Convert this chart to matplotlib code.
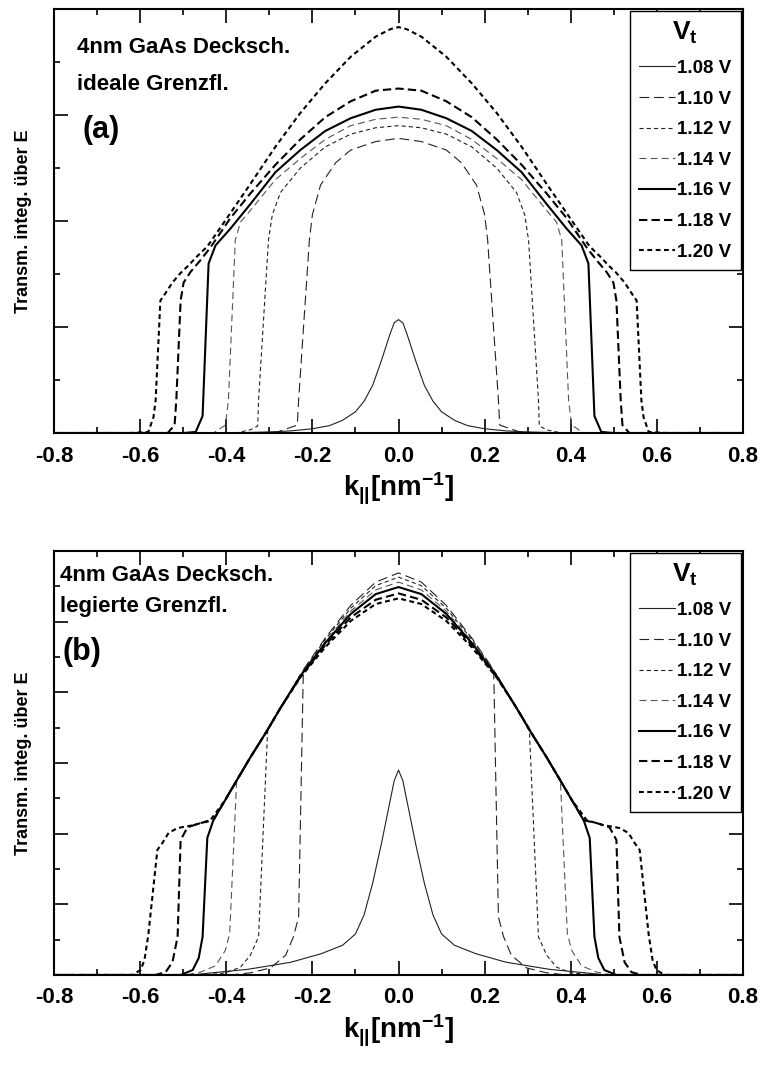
import numpy as np
import matplotlib
matplotlib.use('Agg')
import matplotlib.pyplot as plt
from matplotlib.ticker import MultipleLocator, FormatStrFormatter

plt.rcParams['font.family'] = ['Liberation Sans', 'DejaVu Sans']
plt.rcParams['font.weight'] = 'bold'
plt.rcParams['axes.labelweight'] = 'bold'
plt.rcParams['mathtext.fontset'] = 'custom'
plt.rcParams['mathtext.rm'] = 'Liberation Sans:bold'
plt.rcParams['mathtext.it'] = 'Liberation Sans:bold'
plt.rcParams['mathtext.bf'] = 'Liberation Sans:bold'
plt.rcParams['axes.unicode_minus'] = False
plt.rcParams['lines.scale_dashes'] = False

labels = ['1.08 V', '1.10 V', '1.12 V', '1.14 V', '1.16 V', '1.18 V', '1.20 V']

# ---- (a) ideale Grenzflaeche ----
k_a108 = [-0.8, -0.4, -0.3, -0.25, -0.2, -0.16, -0.13, -0.1, -0.08, -0.06, -0.04, -0.02, -0.01, 0.0,
          0.01, 0.02, 0.04, 0.06, 0.08, 0.1, 0.13, 0.16, 0.2, 0.25, 0.3, 0.4, 0.8]
t_a108 = [0, 0, 0.01, 0.02, 0.04, 0.07, 0.12, 0.2, 0.3, 0.45, 0.68, 0.93, 1.04, 1.07,
          1.04, 0.93, 0.68, 0.45, 0.3, 0.2, 0.12, 0.07, 0.04, 0.02, 0.01, 0, 0]

k_a110 = [-0.8, -0.33, -0.281, -0.235, -0.232, -0.207, -0.2, -0.181, -0.146, -0.111, -0.053, 0.0,
          0.053, 0.111, 0.146, 0.181, 0.2, 0.207, 0.232, 0.235, 0.281, 0.33, 0.8]
t_a110 = [0, 0, 0.01, 0.075, 0.31, 1.82, 2.06, 2.34, 2.55, 2.67, 2.75, 2.78,
          2.75, 2.67, 2.55, 2.34, 2.06, 1.82, 0.31, 0.075, 0.01, 0, 0]

k_a112 = [-0.8, -0.379, -0.344, -0.327, -0.325, -0.302, -0.293, -0.274, -0.228, -0.17, -0.111, -0.053, 0.0,
          0.053, 0.111, 0.17, 0.228, 0.274, 0.293, 0.302, 0.325, 0.327, 0.344, 0.379, 0.8]
t_a112 = [0, 0, 0.03, 0.066, 0.31, 1.82, 2.06, 2.27, 2.5, 2.7, 2.82, 2.88, 2.9,
          2.88, 2.82, 2.7, 2.5, 2.27, 2.06, 1.82, 0.31, 0.066, 0.03, 0, 0]

k_a114 = [-0.8, -0.43, -0.402, -0.395, -0.379, -0.367, -0.344, -0.286, -0.228, -0.17, -0.111, -0.053, 0.0,
          0.053, 0.111, 0.17, 0.228, 0.286, 0.344, 0.367, 0.379, 0.395, 0.402, 0.43, 0.8]
t_a114 = [0, 0, 0.075, 0.31, 1.82, 1.99, 2.1, 2.39, 2.59, 2.77, 2.9, 2.96, 2.98,
          2.96, 2.9, 2.77, 2.59, 2.39, 2.1, 1.99, 1.82, 0.31, 0.075, 0, 0]

k_a116 = [-0.8, -0.499, -0.471, -0.455, -0.441, -0.425, -0.39, -0.344, -0.286, -0.228, -0.17, -0.111, -0.053, 0.0,
          0.053, 0.111, 0.17, 0.228, 0.286, 0.344, 0.39, 0.425, 0.441, 0.455, 0.471, 0.499, 0.8]
t_a116 = [0, 0, 0.01, 0.16, 1.6, 1.77, 1.93, 2.16, 2.46, 2.67, 2.85, 2.97, 3.05, 3.08,
          3.05, 2.97, 2.85, 2.67, 2.46, 2.16, 1.93, 1.77, 1.6, 0.16, 0.01, 0, 0]

k_a118 = [-0.8, -0.536, -0.52, -0.516, -0.506, -0.499, -0.483, -0.46, -0.437, -0.39, -0.344, -0.286, -0.228,
          -0.17, -0.111, -0.053, 0.0, 0.053, 0.111, 0.17, 0.228, 0.286, 0.344, 0.39, 0.437, 0.46, 0.483,
          0.499, 0.506, 0.516, 0.52, 0.536, 0.8]
t_a118 = [0, 0, 0.075, 0.31, 1.25, 1.42, 1.52, 1.63, 1.75, 2.03, 2.26, 2.53, 2.77,
          2.98, 3.13, 3.23, 3.25, 3.23, 3.13, 2.98, 2.77, 2.53, 2.26, 2.03, 1.75, 1.63, 1.52,
          1.42, 1.25, 0.31, 0.075, 0, 0]

k_a120 = [-0.8, -0.622, -0.581, -0.569, -0.564, -0.553, -0.541, -0.525, -0.506, -0.488, -0.467, -0.444,
          -0.42, -0.344, -0.286, -0.228, -0.17, -0.111, -0.053, -0.019, 0.0, 0.019, 0.053, 0.111, 0.17,
          0.228, 0.286, 0.344, 0.42, 0.444, 0.467, 0.488, 0.506, 0.525, 0.541, 0.553, 0.564, 0.569,
          0.581, 0.622, 0.8]
t_a120 = [0, 0, 0.01, 0.15, 0.31, 1.25, 1.32, 1.42, 1.51, 1.58, 1.67, 1.76,
          1.9, 2.35, 2.7, 3.02, 3.3, 3.55, 3.74, 3.81, 3.83, 3.81, 3.74, 3.55, 3.3,
          3.02, 2.7, 2.35, 1.9, 1.76, 1.67, 1.58, 1.51, 1.42, 1.32, 1.25, 0.31, 0.15,
          0.01, 0, 0]

# ---- (b) legierte Grenzflaeche ----
k_b108 = [-0.8, -0.48, -0.45, -0.35, -0.25, -0.18, -0.13, -0.1, -0.08, -0.06, -0.04, -0.02, -0.01, 0.0,
          0.01, 0.02, 0.04, 0.06, 0.08, 0.1, 0.13, 0.18, 0.25, 0.35, 0.45, 0.48, 0.8]
t_b108 = [0, 0, 0.02, 0.08, 0.18, 0.3, 0.42, 0.58, 0.85, 1.3, 1.85, 2.45, 2.75, 2.9,
          2.75, 2.45, 1.85, 1.3, 0.85, 0.58, 0.42, 0.3, 0.18, 0.08, 0.02, 0, 0]

k_b110 = [-0.8, -0.39, -0.344, -0.297, -0.262, -0.244, -0.232, -0.221, -0.17, -0.111, -0.053, 0.0,
          0.053, 0.111, 0.17, 0.221, 0.232, 0.244, 0.262, 0.297, 0.344, 0.39, 0.8]
t_b110 = [0, 0, 0.03, 0.1, 0.28, 0.54, 0.82, 4.32, 4.77, 5.23, 5.56, 5.69,
          5.56, 5.23, 4.77, 4.32, 0.82, 0.54, 0.28, 0.1, 0.03, 0, 0]

k_b112 = [-0.8, -0.448, -0.402, -0.367, -0.344, -0.325, -0.304, -0.274, -0.228, -0.17, -0.111, -0.053, 0.0,
          0.053, 0.111, 0.17, 0.228, 0.274, 0.304, 0.325, 0.344, 0.367, 0.402, 0.448, 0.8]
t_b112 = [0, 0, 0.03, 0.11, 0.28, 0.54, 3.45, 3.78, 4.25, 4.75, 5.19, 5.51, 5.63,
          5.51, 5.19, 4.75, 4.25, 3.78, 3.45, 0.54, 0.28, 0.11, 0.03, 0, 0]

k_b114 = [-0.8, -0.495, -0.46, -0.425, -0.402, -0.392, -0.376, -0.344, -0.309, -0.274, -0.228, -0.17,
          -0.111, -0.053, 0.0, 0.053, 0.111, 0.17, 0.228, 0.274, 0.309, 0.344, 0.376, 0.392, 0.402,
          0.425, 0.46, 0.495, 0.8]
t_b114 = [0, 0, 0.04, 0.13, 0.35, 0.59, 2.74, 3.08, 3.42, 3.78, 4.24, 4.72,
          5.15, 5.45, 5.56, 5.45, 5.15, 4.72, 4.24, 3.78, 3.42, 3.08, 2.74, 0.59, 0.35,
          0.13, 0.04, 0, 0]

k_b116 = [-0.8, -0.506, -0.478, -0.464, -0.455, -0.444, -0.43, -0.402, -0.379, -0.344, -0.309, -0.274,
          -0.228, -0.17, -0.111, -0.053, 0.0, 0.053, 0.111, 0.17, 0.228, 0.274, 0.309, 0.344, 0.379,
          0.402, 0.43, 0.444, 0.455, 0.464, 0.478, 0.506, 0.8]
t_b116 = [0, 0, 0.07, 0.24, 0.54, 1.94, 2.19, 2.48, 2.72, 3.08, 3.42, 3.78,
          4.23, 4.7, 5.11, 5.39, 5.49, 5.39, 5.11, 4.7, 4.23, 3.78, 3.42, 3.08, 2.72,
          2.48, 2.19, 1.94, 0.54, 0.24, 0.07, 0, 0]

k_b118 = [-0.8, -0.564, -0.541, -0.525, -0.513, -0.506, -0.49, -0.46, -0.43, -0.402, -0.379, -0.344,
          -0.309, -0.274, -0.228, -0.17, -0.111, -0.053, 0.0, 0.053, 0.111, 0.17, 0.228, 0.274, 0.309,
          0.344, 0.379, 0.402, 0.43, 0.46, 0.49, 0.506, 0.513, 0.525, 0.541, 0.564, 0.8]
t_b118 = [0, 0, 0.04, 0.18, 0.54, 1.91, 2.09, 2.15, 2.19, 2.48, 2.72, 3.08,
          3.42, 3.78, 4.22, 4.67, 5.06, 5.31, 5.4, 5.31, 5.06, 4.67, 4.22, 3.78, 3.42,
          3.08, 2.72, 2.48, 2.19, 2.15, 2.09, 1.91, 0.54, 0.18, 0.04, 0, 0]

k_b120 = [-0.8, -0.618, -0.599, -0.59, -0.581, -0.56, -0.548, -0.534, -0.513, -0.476, -0.437, -0.402,
          -0.379, -0.344, -0.309, -0.274, -0.228, -0.17, -0.111, -0.053, 0.0, 0.053, 0.111, 0.17,
          0.228, 0.274, 0.309, 0.344, 0.379, 0.402, 0.437, 0.476, 0.513, 0.534, 0.548, 0.56, 0.581,
          0.59, 0.599, 0.618, 0.8]
t_b120 = [0, 0, 0.07, 0.21, 0.57, 1.77, 1.87, 2.01, 2.08, 2.12, 2.19, 2.48,
          2.72, 3.08, 3.42, 3.78, 4.21, 4.64, 5.01, 5.25, 5.33, 5.25, 5.01, 4.64,
          4.21, 3.78, 3.42, 3.08, 2.72, 2.48, 2.19, 2.12, 2.08, 2.01, 1.87, 1.77, 0.57,
          0.21, 0.07, 0, 0]

curves_a = [(k_a108, t_a108), (k_a110, t_a110), (k_a112, t_a112), (k_a114, t_a114),
            (k_a116, t_a116), (k_a118, t_a118), (k_a120, t_a120)]
curves_b = [(k_b108, t_b108), (k_b110, t_b110), (k_b112, t_b112), (k_b114, t_b114),
            (k_b116, t_b116), (k_b118, t_b118), (k_b120, t_b120)]

# line style per voltage: (linewidth, dashes, colour)
styles = [(0.8, None, '#222222'),
          (0.8, (7, 3.5), '#222222'),
          (0.8, (3, 2.2), '#222222'),
          (0.8, (5, 3), '#555555'),
          (1.5, None, 'black'),
          (1.5, (6, 3), 'black'),
          (1.5, (3.5, 2.5), 'black')]

fig = plt.figure(figsize=(7.63, 10.66), dpi=100)
ax1 = fig.add_axes([0.0708, 0.5938, 0.903, 0.3977])
ax2 = fig.add_axes([0.0708, 0.0854, 0.903, 0.3977])


def draw(ax, curves, ymax):
    for (k, t), lab, (lw, ds, col) in zip(curves, labels, styles):
        line, = ax.plot(k, t, color=col, lw=lw, label=lab)
        if ds is not None:
            line.set_dashes(ds)
    ax.set_xlim(-0.8, 0.8)
    ax.set_ylim(0, ymax)
    ax.xaxis.set_major_locator(MultipleLocator(0.2))
    ax.xaxis.set_minor_locator(MultipleLocator(0.1))
    ax.xaxis.set_major_formatter(FormatStrFormatter('%.1f'))
    ax.yaxis.set_major_locator(MultipleLocator(1))
    ax.yaxis.set_minor_locator(MultipleLocator(0.5))
    ax.tick_params(which='both', direction='in', top=True, right=True, width=1.2)
    ax.tick_params(which='major', length=10, labelsize=16, pad=9)
    ax.tick_params(which='minor', length=4)
    ax.tick_params(axis='y', which='both', labelleft=False)
    for sp in ax.spines.values():
        sp.set_linewidth(1.5)
    ax.set_xlabel(r'$k_{||}$[nm$^{-1}$]', fontsize=20, labelpad=3)
    ax.set_ylabel('Transm. integ. über E', fontsize=13, labelpad=16)
    leg = ax.legend(title='V$_t$', loc='upper right', bbox_to_anchor=(0.997, 0.996),
                    fontsize=13.5, title_fontsize=19, handlelength=1.9, handletextpad=0.15,
                    labelspacing=0.72, borderpad=0.5, fancybox=False, edgecolor='black',
                    framealpha=1, borderaxespad=0)
    leg.get_frame().set_linewidth(1.0)


draw(ax1, curves_a, 4)
draw(ax2, curves_b, 6)

ax1.text(0.033, 0.91, '4nm GaAs Decksch.', transform=ax1.transAxes, fontsize=16, va='center')
ax1.text(0.033, 0.821, 'ideale Grenzfl.', transform=ax1.transAxes, fontsize=16, va='center')
ax1.text(0.041, 0.715, '(a)', transform=ax1.transAxes, fontsize=22, va='center')

ax2.text(0.009, 0.943, '4nm GaAs Decksch.', transform=ax2.transAxes, fontsize=16, va='center')
ax2.text(0.009, 0.87, 'legierte Grenzfl.', transform=ax2.transAxes, fontsize=16, va='center')
ax2.text(0.012, 0.762, '(b)', transform=ax2.transAxes, fontsize=22, va='center')

fig.savefig('out.png', dpi=100)
